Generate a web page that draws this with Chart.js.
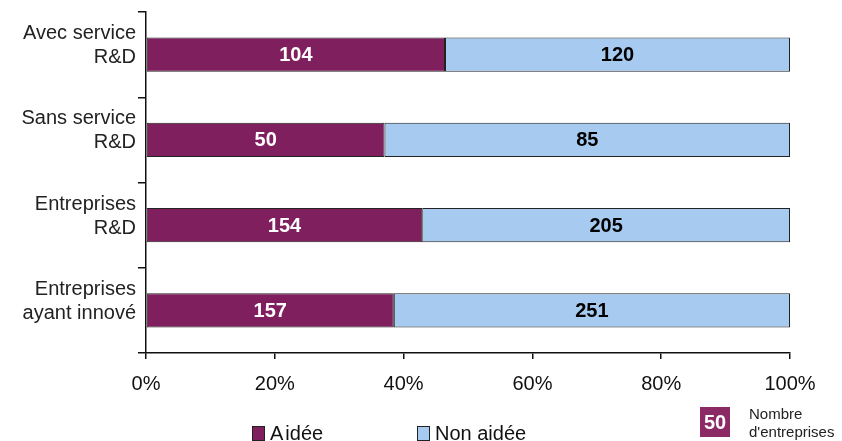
<!DOCTYPE html>
<html>
<head>
<meta charset="utf-8">
<script src="https://cdn.jsdelivr.net/npm/chart.js@4/dist/chart.umd.min.js"></script>
<style>
  body { margin: 0; background: #fff; font-family: "Liberation Sans", Arial, sans-serif; }
  #wrap { position: relative; width: 842px; height: 441px; overflow: hidden; }
  .leg { position: absolute; font-size: 20px; color: #111; white-space: nowrap; }
  .sw { display: inline-block; width: 11px; height: 13px; border: 1px solid #222; margin-right: 5px; vertical-align: -1px; }
  #note { position: absolute; left: 700px; top: 407px; width: 30px; height: 30px; background: #8c2a66;
          color: #fff; font-weight: bold; font-size: 20px; text-align: center; line-height: 30px; }
  #noteTxt { position: absolute; left: 749px; top: 405px; font-size: 15px; line-height: 18px; color: #222; }
</style>
</head>
<body>
<div id="wrap">
  <canvas id="chart" width="842" height="441"></canvas>
  <div class="leg" style="left:252px; top:422px;"><span class="sw" style="background:#7f1f5e"></span>A<span style="margin-left:2px">idée</span></div>
  <div class="leg" style="left:417px; top:422px;"><span class="sw" style="background:#a6caf0"></span>Non aidée</div>
  <div id="note">50</div>
  <div id="noteTxt">Nombre<br>d'entreprises</div>
</div>
<script>
var categories = [
    ['Avec service', 'R&D'],
    ['Sans service', 'R&D'],
    ['Entreprises', 'R&D'],
    ['Entreprises', 'ayant innové']
];
var aidee = [104, 50, 154, 157];
var nonAidee = [120, 85, 205, 251];
var xTicks = [0, 20, 40, 60, 80, 100];

// parts en % de chaque categorie
var pctAidee = aidee.map(function(v, i) { return v / (v + nonAidee[i]) * 100; });
var pctNon = nonAidee.map(function(v, i) { return v / (aidee[i] + v) * 100; });

var labelsPlugin = {
    id: 'countLabels',
    afterDatasetsDraw: function(chart) {
        var ctx = chart.ctx;
        ctx.save();
        ctx.font = 'bold 20px "Liberation Sans", Arial, sans-serif';
        ctx.textAlign = 'center';
        ctx.textBaseline = 'middle';
        chart.data.datasets.forEach(function(ds, di) {
            var counts = di === 0 ? aidee : nonAidee;
            chart.getDatasetMeta(di).data.forEach(function(bar, i) {
                var p = bar.getProps(['x', 'y', 'base'], true);
                ctx.fillStyle = di === 0 ? '#ffffff' : '#000000';
                ctx.fillText(String(counts[i]), (p.x + p.base) / 2, p.y + 1);
            });
        });
        ctx.restore();
    }
};

var ctx = document.getElementById('chart');
var myChart = new Chart(ctx, {
    type: 'bar',
    data: {
        labels: categories,
        datasets: [{
            label: 'Aidée',
            data: pctAidee,
            backgroundColor: '#7f1f5e',
            borderColor: '#222',
            borderWidth: 1,
            borderSkipped: false,
            categoryPercentage: 1,
            barPercentage: 0.4
        }, {
            label: 'Non aidée',
            data: pctNon,
            backgroundColor: '#a6caf0',
            borderColor: '#222',
            borderWidth: 1,
            borderSkipped: false,
            categoryPercentage: 1,
            barPercentage: 0.4
        }]
    },
    options: {
        indexAxis: 'y',
        responsive: false,
        animation: false,
        layout: { padding: { top: 12, right: 52, left: 0, bottom: 0 } },
        plugins: { legend: { display: false }, tooltip: { enabled: false } },
        scales: {
            x: {
                stacked: true,
                min: 0,
                max: 100,
                afterBuildTicks: function(scale) {
                    scale.ticks = xTicks.map(function(v) { return { value: v }; });
                },
                afterFit: function(scale) {
                    scale.height = 88;
                    scale.paddingLeft = 0;
                    scale.paddingRight = 0;
                },
                grid: { drawOnChartArea: false, tickLength: 6, color: '#111', lineWidth: 1.5 },
                border: { color: '#111', width: 1.5 },
                ticks: {
                    color: '#111',
                    padding: 13,
                    maxRotation: 0,
                    font: { size: 20, family: '"Liberation Sans", Arial, sans-serif' },
                    callback: function(v) { return v + '%'; }
                }
            },
            y: {
                stacked: true,
                afterFit: function(scale) {
                    scale.width = 146;
                    scale.paddingTop = 0;
                    scale.paddingBottom = 0;
                },
                grid: { drawOnChartArea: false, offset: true, tickLength: 8, color: '#111', lineWidth: 1.5 },
                border: { color: '#111', width: 1.5 },
                ticks: {
                    color: '#222',
                    padding: 2,
                    labelOffset: -9,
                    font: { size: 20, family: '"Liberation Sans", Arial, sans-serif', lineHeight: 1.2 }
                }
            }
        }
    },
    plugins: [labelsPlugin]
});
</script>
</body>
</html>
